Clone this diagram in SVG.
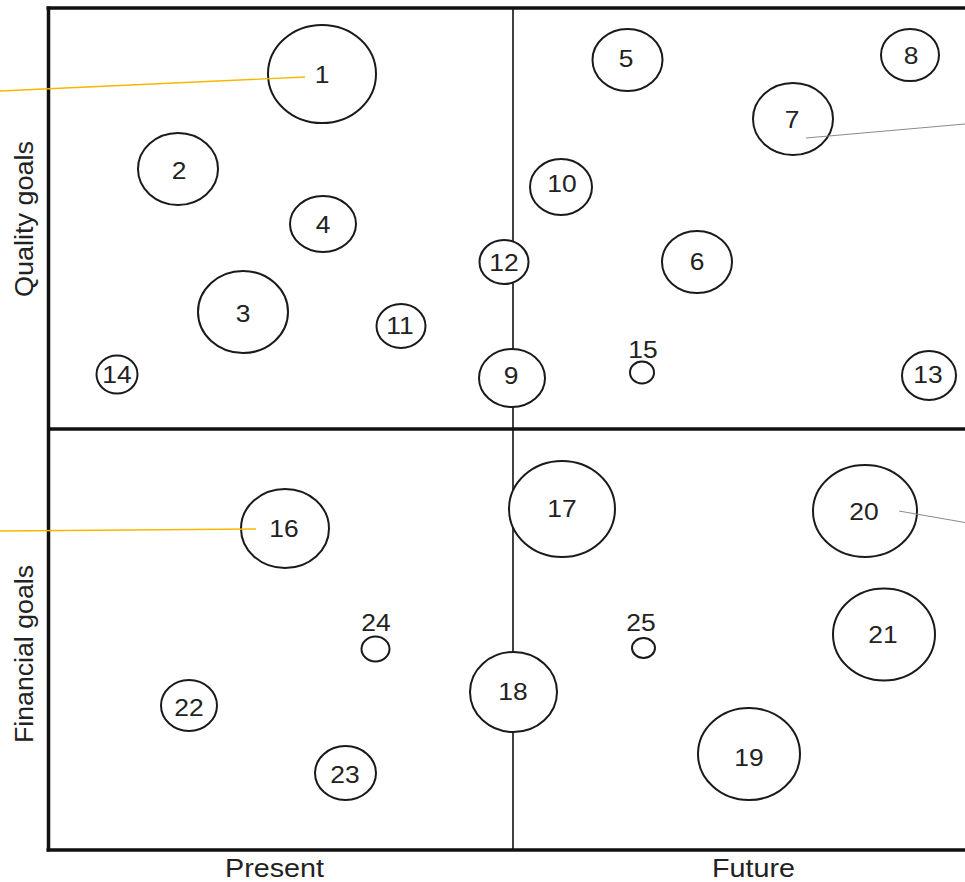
<svg xmlns="http://www.w3.org/2000/svg" width="965" height="882" viewBox="0 0 965 882">
<style>
.frame{stroke:#111;stroke-width:3.5;fill:none}
.mid{stroke:#111;stroke-width:1.6;fill:none}
.node ellipse{fill:#fff;stroke:#1a1a1a;stroke-width:2}
.node text,.lbl{font-family:"Liberation Sans",Arial,sans-serif;font-size:24px;fill:#222;text-anchor:middle}
.axis{font-family:"Liberation Sans",Arial,sans-serif;font-size:26px;fill:#222;text-anchor:middle}
.axis.b{font-size:25px}
.orange{stroke:#F5B800;stroke-width:1.4;fill:none}
.grey{stroke:#8a8a8a;stroke-width:1;fill:none}
</style>
<rect width="965" height="882" fill="#fff"/>
<g id="frame">
<line class="mid" x1="513" y1="8" x2="513" y2="850"/>
<line class="frame" x1="46.5" y1="8" x2="965" y2="8"/>
<line class="frame" x1="48.5" y1="6.5" x2="48.5" y2="851.5"/>
<line class="frame" x1="46.5" y1="850" x2="965" y2="850"/>
<line class="frame" x1="48.5" y1="429" x2="965" y2="429"/>
</g>
<g id="axes">
<text class="axis b" x="274.5" y="876.5" textLength="99" lengthAdjust="spacingAndGlyphs">Present</text>
<text class="axis b" x="753.5" y="876.5" textLength="83" lengthAdjust="spacingAndGlyphs">Future</text>
<text class="axis" transform="translate(33,219) rotate(-90)" textLength="156" lengthAdjust="spacingAndGlyphs">Quality goals</text>
<text class="axis" transform="translate(33,654) rotate(-90)" textLength="178" lengthAdjust="spacingAndGlyphs">Financial goals</text>
</g>
<g id="n1" class="node"><ellipse cx="322" cy="74" rx="54" ry="49"/><text transform="translate(322,82.8) scale(1.1,1)">1</text></g>
<g id="n2" class="node"><ellipse cx="178" cy="169" rx="40" ry="36"/><text transform="translate(179,178.6) scale(1.1,1)">2</text></g>
<g id="n3" class="node"><ellipse cx="243" cy="312" rx="45" ry="41"/><text transform="translate(243,321.6) scale(1.1,1)">3</text></g>
<g id="n4" class="node"><ellipse cx="323" cy="224" rx="33" ry="28"/><text transform="translate(323,233.1) scale(1.1,1)">4</text></g>
<g id="n5" class="node"><ellipse cx="627.5" cy="60" rx="35" ry="31"/><text transform="translate(626,66.6) scale(1.1,1)">5</text></g>
<g id="n6" class="node"><ellipse cx="697" cy="262" rx="35" ry="31"/><text transform="translate(697,270.1) scale(1.1,1)">6</text></g>
<g id="n7" class="node"><ellipse cx="793" cy="119" rx="40" ry="36"/><text transform="translate(792,127.6) scale(1.1,1)">7</text></g>
<g id="n8" class="node"><ellipse cx="910" cy="55" rx="29" ry="26"/><text transform="translate(911,63.6) scale(1.1,1)">8</text></g>
<g id="n9" class="node"><ellipse cx="512" cy="378" rx="33" ry="29"/><text transform="translate(511,383.6) scale(1.1,1)">9</text></g>
<g id="n10" class="node"><ellipse cx="561" cy="187" rx="31" ry="28"/><text transform="translate(562,192.1) scale(1.1,1)">10</text></g>
<g id="n11" class="node"><ellipse cx="401" cy="326" rx="24.5" ry="22"/><text transform="translate(400,333.6) scale(1.1,1)">11</text></g>
<g id="n12" class="node"><ellipse cx="504" cy="262" rx="24.5" ry="22"/><text transform="translate(504,271.1) scale(1.1,1)">12</text></g>
<g id="n13" class="node"><ellipse cx="929" cy="375.5" rx="27" ry="24.5"/><text transform="translate(928,382.6) scale(1.1,1)">13</text></g>
<g id="n14" class="node"><ellipse cx="117" cy="374.5" rx="20.5" ry="19"/><text transform="translate(117,382.6) scale(1.1,1)">14</text></g>
<g id="n15" class="node"><ellipse cx="642" cy="372.5" rx="12" ry="11"/><text transform="translate(643,357.5) scale(1.1,1)">15</text></g>
<g id="n16" class="node"><ellipse cx="285" cy="528.5" rx="44" ry="39.5"/><text transform="translate(284,537.1) scale(1.1,1)">16</text></g>
<g id="n17" class="node"><ellipse cx="562" cy="509" rx="53" ry="48"/><text transform="translate(562,517.1) scale(1.1,1)">17</text></g>
<g id="n18" class="node"><ellipse cx="513.5" cy="692" rx="43.5" ry="40"/><text transform="translate(513,700.1) scale(1.1,1)">18</text></g>
<g id="n19" class="node"><ellipse cx="749" cy="754" rx="51" ry="46"/><text transform="translate(749,765.6) scale(1.1,1)">19</text></g>
<g id="n20" class="node"><ellipse cx="865" cy="511" rx="52" ry="46"/><text transform="translate(864,520.1) scale(1.1,1)">20</text></g>
<g id="n21" class="node"><ellipse cx="884" cy="634.5" rx="51" ry="46"/><text transform="translate(883,642.6) scale(1.1,1)">21</text></g>
<g id="n22" class="node"><ellipse cx="189" cy="705.5" rx="28" ry="25.5"/><text transform="translate(189,715.6) scale(1.1,1)">22</text></g>
<g id="n23" class="node"><ellipse cx="345.5" cy="773" rx="30.5" ry="27"/><text transform="translate(345,782.6) scale(1.1,1)">23</text></g>
<g id="n24" class="node"><ellipse cx="375.5" cy="649" rx="14" ry="12.5"/><text transform="translate(376,631) scale(1.1,1)">24</text></g>
<g id="n25" class="node"><ellipse cx="643.5" cy="648" rx="11.5" ry="10"/><text transform="translate(641,631) scale(1.1,1)">25</text></g>
<g id="connectors">
<line class="orange" x1="0" y1="91" x2="305" y2="77"/>
<line class="orange" x1="0" y1="531" x2="256" y2="529"/>
<line class="grey" x1="806" y1="138" x2="965" y2="124"/>
<line class="grey" x1="899" y1="511" x2="965" y2="522.5"/>
</g>
</svg>
